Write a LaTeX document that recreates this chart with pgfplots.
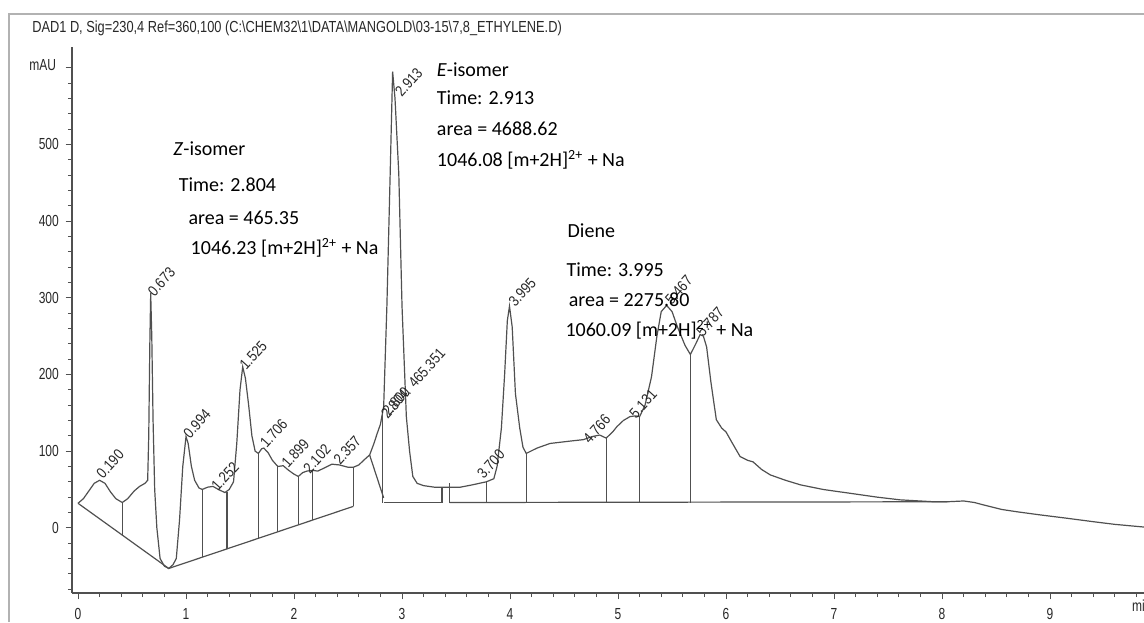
\documentclass[border=0pt]{standalone}
\usepackage{fontspec}
\setmainfont{Liberation Sans}
\newfontfamily\calfont{Carlito}
\usepackage{pgfplots}
\pgfplotsset{compat=1.18}
\definecolor{trace}{RGB}{80,80,80}
\definecolor{ink}{RGB}{40,40,40}
\tikzset{
  lab/.style={rotate=48, anchor=south west, inner sep=0, font=\fontsize{7.6}{8}\selectfont, text=ink, xscale=0.85},
  ann/.style={anchor=west, inner sep=0, font=\calfont\fontsize{10}{12}\selectfont, text=black},
}
\begin{document}
\begin{tikzpicture}
\useasboundingbox (0,0) rectangle (572pt,311pt);
\draw[gray!60, line width=0.6pt] (4.5pt,0) -- (4.5pt,304pt) -- (572pt,304pt);
\node[anchor=west, inner sep=0, text=ink, font=\fontsize{8}{9}\selectfont, xscale=0.8] at (16pt,297pt)
  {DAD1 D, Sig=230,4 Ref=360,100 (C:\textbackslash CHEM32\textbackslash 1\textbackslash DATA\textbackslash MANGOLD\textbackslash 03-15\textbackslash 7,8\_ETHYLENE.D)};
\begin{axis}[
  at={(36pt,14.5pt)}, anchor=south west,
  scale only axis, width=536pt, height=273pt,
  xmin=-0.0556, xmax=9.87, ymin=-85, ymax=627,
  axis lines=left, axis line style={-, draw=trace, line width=0.6pt},
  clip=false,
  xtick={0,1,...,9}, minor xtick={0,0.2,...,9.81},
  ytick={0,100,200,300,400,500,600},
  yticklabels={0,100,200,300,400,500,{}},
  minor ytick={-80,-60,...,600},
  tick align=outside,
  major tick length=3.2pt, minor tick length=2pt,
  every tick/.style={draw=trace, line width=0.5pt},
  tick label style={font=\fontsize{8}{9}\selectfont, text=ink, xscale=0.75},
  /pgf/number format/assume math mode=true,
  xticklabel style={yshift=-1pt},
  yticklabel style={xshift=-1pt},
  every axis plot/.style={draw=trace, line width=0.6pt},
]
% chromatogram trace
\addplot[mark=none] coordinates {
(0.00,32) (0.05,38) (0.10,48) (0.15,58) (0.20,62) (0.25,58) (0.30,47) (0.35,38) (0.41,33)
(0.46,38) (0.52,48) (0.57,54) (0.62,58) (0.645,62) (0.655,120) (0.665,240) (0.673,306)
(0.683,250) (0.695,140) (0.71,50) (0.73,0) (0.76,-40) (0.80,-50) (0.84,-53) (0.88,-48)
(0.91,-40) (0.94,10) (0.97,80) (1.00,119) (1.02,110) (1.05,80) (1.08,62) (1.12,52)
(1.15,50) (1.20,53) (1.25,54) (1.30,50) (1.36,46) (1.40,50) (1.44,60) (1.47,110)
(1.50,180) (1.525,210) (1.55,195) (1.58,160) (1.61,120) (1.64,100) (1.67,97) (1.70,103)
(1.72,104) (1.76,98) (1.80,88) (1.85,80) (1.90,81) (1.95,75) (2.00,70) (2.04,67)
(2.08,72) (2.12,74) (2.17,75) (2.22,74) (2.28,78) (2.35,83) (2.42,82) (2.50,79)
(2.55,79) (2.60,82) (2.66,90) (2.70,95) (2.74,110) (2.77,123) (2.80,135) (2.83,158)
(2.86,290) (2.89,460) (2.913,595) (2.935,560) (2.97,462) (3.00,289) (3.04,145)
(3.07,100) (3.10,67) (3.14,58) (3.20,55) (3.30,53) (3.40,53) (3.54,53) (3.65,56)
(3.78,60) (3.85,64) (3.88,80) (3.92,130) (3.95,200) (3.975,270) (3.995,289) (4.02,262)
(4.05,175) (4.09,130) (4.12,105) (4.15,97) (4.25,104) (4.37,110) (4.55,113)
(4.68,115) (4.76,119) (4.83,121) (4.89,117) (4.95,125) (4.99,132) (5.05,140) (5.11,145)
(5.16,146) (5.20,145)
(5.25,160) (5.31,197) (5.36,250) (5.40,282) (5.45,290) (5.50,282) (5.55,262) (5.62,238)
(5.67,226) (5.72,240) (5.76,252) (5.79,250) (5.82,236) (5.86,190) (5.91,141) (5.96,130)
(6.00,125) (6.06,110) (6.13,93) (6.20,88) (6.25,86) (6.33,76) (6.41,69) (6.55,62)
(6.69,56) (6.90,50) (7.15,45) (7.40,40) (7.61,36.5) (7.92,34) (8.05,34) (8.20,35)
(8.30,33) (8.38,30) (8.55,24) (8.69,21) (8.90,17) (9.15,12.6) (9.40,8) (9.60,4.5) (9.87,1)
};
% integration baselines
\addplot[mark=none] coordinates {(0,32) (0.84,-53) (2.55,28)};
\addplot[mark=none] coordinates {(2.70,95) (2.83,39)};
\addplot[mark=none] coordinates {(2.83,33) (3.37,33)};
\addplot[mark=none] coordinates {(3.44,33) (8.05,34)};
% drop lines
\addplot[mark=none] coordinates {(0.41,33) (0.41,-9)};
\addplot[mark=none] coordinates {(1.15,50) (1.15,-38)};
\addplot[mark=none] coordinates {(1.38,47) (1.38,-27)};
\addplot[mark=none] coordinates {(1.67,97) (1.67,-13)};
\addplot[mark=none] coordinates {(1.85,80) (1.85,-5)};
\addplot[mark=none] coordinates {(2.04,67) (2.04,4)};
\addplot[mark=none] coordinates {(2.17,75) (2.17,10)};
\addplot[mark=none] coordinates {(2.55,79) (2.55,28)};
\addplot[mark=none] coordinates {(2.82,33) (2.82,150)};
\addplot[mark=none] coordinates {(3.37,53) (3.37,33)};
\addplot[mark=none] coordinates {(3.44,58) (3.44,33)};
\addplot[mark=none] coordinates {(3.78,60) (3.78,33)};
\addplot[mark=none] coordinates {(4.15,97) (4.15,33)};
\addplot[mark=none] coordinates {(4.89,117) (4.89,33)};
\addplot[mark=none] coordinates {(5.20,145) (5.20,33)};
\addplot[mark=none] coordinates {(5.67,226) (5.67,33)};
% peak labels
\node[lab] at (axis cs:0.235,62) {0.190};
\node[lab] at (axis cs:0.71,300) {0.673};
\node[lab] at (axis cs:1.04,115) {0.994};
\node[lab] at (axis cs:1.30,46) {1.252};
\node[lab] at (axis cs:1.56,204) {1.525};
\node[lab] at (axis cs:1.75,102) {1.706};
\node[lab] at (axis cs:1.95,76) {1.899};
\node[lab] at (axis cs:2.15,69) {2.102};
\node[lab] at (axis cs:2.43,80) {2.357};
\node[lab] at (axis cs:2.87,141) {2.804: 465.351};
\node[lab] at (axis cs:2.885,144) {2.800};
\node[lab] at (axis cs:3.00,560) {2.913};
\node[lab] at (axis cs:3.76,62) {3.700};
\node[lab] at (axis cs:4.05,286) {3.995};
\node[lab] at (axis cs:4.74,108) {4.766};
\node[lab] at (axis cs:5.17,141) {5.131};
\node[lab] at (axis cs:5.50,289) {5.467};
\node[lab] at (axis cs:5.79,248) {5.787};
% annotations
\node[ann] at (axis cs:0.88,495) {\textit{Z}-isomer};
\node[ann] at (axis cs:0.93,447) {Time: 2.804};
\node[ann] at (axis cs:1.02,404) {area = 465.35};
\node[ann] at (axis cs:1.04,365) {1046.23 [m+2H]\textsuperscript{2+} + Na};
\node[ann] at (axis cs:3.32,597) {\textit{E}-isomer};
\node[ann] at (axis cs:3.32,561) {Time: 2.913};
\node[ann] at (axis cs:3.32,521) {area = 4688.62};
\node[ann] at (axis cs:3.32,480) {1046.08 [m+2H]\textsuperscript{2+} + Na};
\node[ann] at (axis cs:4.53,387) {Diene};
\node[ann] at (axis cs:4.52,336) {Time: 3.995};
\node[ann] at (axis cs:4.54,297) {area = 2275.80};
\node[ann] at (axis cs:4.51,258) {1060.09 [m+2H]\textsuperscript{2+} + Na};
% axis unit labels
\node[anchor=east, inner sep=0, text=ink, font=\fontsize{8}{9}\selectfont, xscale=0.75] at (axis cs:-0.2,603) {mAU};
\node[anchor=north, inner sep=0, text=ink, font=\fontsize{8}{9}\selectfont, xscale=0.75] at (axis cs:9.85,-94) {min};
\end{axis}
\end{tikzpicture}
\end{document}
